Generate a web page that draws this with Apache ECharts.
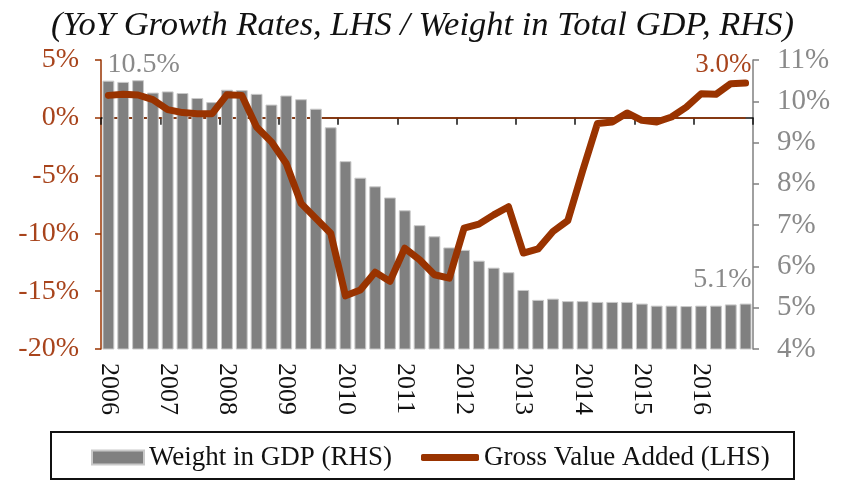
<!DOCTYPE html>
<html>
<head>
<meta charset="utf-8">
<script src="https://cdn.jsdelivr.net/npm/echarts@6/dist/echarts.min.js"></script>
<style>
  html, body { margin: 0; padding: 0; background: #ffffff; }
  #chart { width: 845px; height: 481px; }
</style>
</head>
<body>
<div id="chart"></div>
<script>
// Quarterly observations, 2006 Q1 – 2016 Q4
const years = ['2006','2007','2008','2009','2010','2011','2012','2013','2014','2015','2016'];
const quarters = ['Q1','Q2','Q3','Q4'];
const categories = [];
years.forEach(y => quarters.forEach(q => categories.push(y + ' ' + q)));

// Share of the sector in total GDP, % (right axis)
const weightInGDP = [
  10.50, 10.47, 10.51, 10.21, 10.24, 10.20, 10.08, 9.98,
  10.28, 10.27, 10.18, 9.92, 10.14, 10.05, 9.82, 9.37,
  8.55, 8.15, 7.94, 7.67, 7.36, 7.00, 6.73, 6.46,
  6.40, 6.14, 5.97, 5.86, 5.43, 5.19, 5.22, 5.16,
  5.16, 5.14, 5.14, 5.14, 5.10, 5.05, 5.05, 5.04,
  5.05, 5.05, 5.08, 5.10
];

// Gross value added, year-on-year growth, % (left axis)
const grossValueAdded = [
  1.94, 2.03, 1.97, 1.57, 0.71, 0.45, 0.36, 0.36,
  2.00, 1.94, -0.79, -2.08, -3.95, -7.40, -8.70, -9.98,
  -15.40, -14.90, -13.35, -14.15, -11.28, -12.28, -13.58, -13.87,
  -9.55, -9.20, -8.40, -7.69, -11.70, -11.34, -9.84, -8.90,
  -4.60, -0.50, -0.36, 0.42, -0.22, -0.36, 0.07, 0.93,
  2.08, 2.03, 2.95, 3.00
];

// Axis ranges
const leftAxisRange = { min: -20, max: 5, step: 5 };
const rightAxisRange = { min: 4, max: 11, step: 1 };

const BROWN = '#993300';
const BROWN_TEXT = '#a8441c';
const GREY = '#808080';
const GREY_TEXT = '#8a8a8a';
const SERIF = '"Liberation Serif", "DejaVu Serif", serif';

const lastIdx = categories.length - 1;

// Value labels on the first and last bars
const weightSeriesData = weightInGDP.map((v, i) => {
  if (i === 0) {
    return { value: v, label: { show: true, position: [5, -2], align: 'left', verticalAlign: 'bottom' } };
  }
  if (i === lastIdx) {
    return { value: v, label: { show: true, position: [12, -10], align: 'right', verticalAlign: 'bottom' } };
  }
  return v;
});

const chart = echarts.init(document.getElementById('chart'), null, { renderer: 'canvas' });

chart.setOption({
  animation: false,
  backgroundColor: '#ffffff',
  title: {
    text: '(YoY Growth Rates, LHS / Weight in Total GDP, RHS)',
    left: 'center',
    top: 3,
    textStyle: { fontFamily: SERIF, fontStyle: 'italic', fontWeight: 'normal', fontSize: 34.5, color: '#111111' }
  },
  grid: { left: 101, right: 92, top: 60, bottom: 132, containLabel: false },
  legend: [
    {
      data: [{ name: 'Weight in GDP (RHS)', icon: 'rect' }],
      left: 91, top: 444, padding: 0,
      itemWidth: 52, itemHeight: 14, itemGap: 5,
      textStyle: { fontFamily: SERIF, fontSize: 27, color: '#111111' }
    },
    {
      data: [{ name: 'Gross Value Added (LHS)', icon: 'roundRect' }],
      left: 421, top: 444, padding: 0,
      itemWidth: 58, itemHeight: 7, itemGap: 3,
      textStyle: { fontFamily: SERIF, fontSize: 27, color: '#111111' }
    }
  ],
  graphic: [
    {
      type: 'rect',
      shape: { x: 51, y: 432, width: 743, height: 47 },
      style: { fill: 'none', stroke: '#111111', lineWidth: 2 },
      z: 100
    }
  ],
  xAxis: {
    type: 'category',
    data: categories,
    boundaryGap: true,
    axisLine: { show: true, lineStyle: { color: '#111111', width: 1.5 } },
    axisTick: { show: true, interval: 3, length: 7, inside: false, lineStyle: { color: '#111111', width: 1.5 } },
    axisLabel: {
      interval: 3,
      rotate: -90,
      margin: 14,
      fontFamily: SERIF,
      fontSize: 26,
      color: '#111111',
      formatter: v => v.slice(0, 4)
    },
    splitLine: { show: false }
  },
  yAxis: [
    {
      type: 'value',
      position: 'left',
      min: leftAxisRange.min, max: leftAxisRange.max, interval: leftAxisRange.step,
      axisLine: { show: true, lineStyle: { color: BROWN, width: 1.5 } },
      axisTick: { show: true, length: 6, lineStyle: { color: BROWN, width: 1.5 } },
      axisLabel: { margin: 22, fontFamily: SERIF, fontSize: 28, color: BROWN_TEXT, formatter: v => v + '%' },
      splitLine: { show: false }
    },
    {
      type: 'value',
      position: 'right',
      min: rightAxisRange.min, max: rightAxisRange.max, interval: rightAxisRange.step,
      axisLine: { show: true, lineStyle: { color: GREY, width: 1.5 } },
      axisTick: { show: true, length: 6, lineStyle: { color: GREY, width: 1.5 } },
      axisLabel: { margin: 24, fontFamily: SERIF, fontSize: 29, color: GREY_TEXT, formatter: v => v + '%' },
      splitLine: { show: false }
    }
  ],
  series: [
    {
      name: 'Weight in GDP (RHS)',
      type: 'bar',
      yAxisIndex: 1,
      data: weightSeriesData,
      barCategoryGap: '20%',
      itemStyle: { color: GREY, borderColor: '#c9c9c9', borderWidth: 1 },
      label: {
        show: false,
        fontFamily: SERIF,
        fontSize: 28,
        color: GREY_TEXT,
        formatter: p => p.value.toFixed(1) + '%'
      },
      emphasis: { disabled: true },
      z: 2
    },
    {
      name: 'Gross Value Added (LHS)',
      type: 'line',
      yAxisIndex: 0,
      data: grossValueAdded,
      showSymbol: true,
      symbol: 'circle',
      symbolSize: 1,
      itemStyle: { color: BROWN },
      lineStyle: { color: BROWN, width: 7, cap: 'round', join: 'round' },
      label: {
        show: true,
        fontFamily: SERIF,
        fontSize: 27,
        color: BROWN_TEXT,
        position: 'top',
        align: 'right',
        offset: [6, 1],
        formatter: p => (p.dataIndex === lastIdx ? p.value.toFixed(1) + '%' : '')
      },
      markLine: {
        silent: true,
        symbol: 'none',
        label: { show: false },
        lineStyle: { color: BROWN, width: 1.5, type: 'solid' },
        data: [[{ coord: [categories[0], 0] }, { coord: [categories[lastIdx], 0] }]],
        z: 1
      },
      emphasis: { disabled: true },
      z: 5
    }
  ]
});
</script>
</body>
</html>
